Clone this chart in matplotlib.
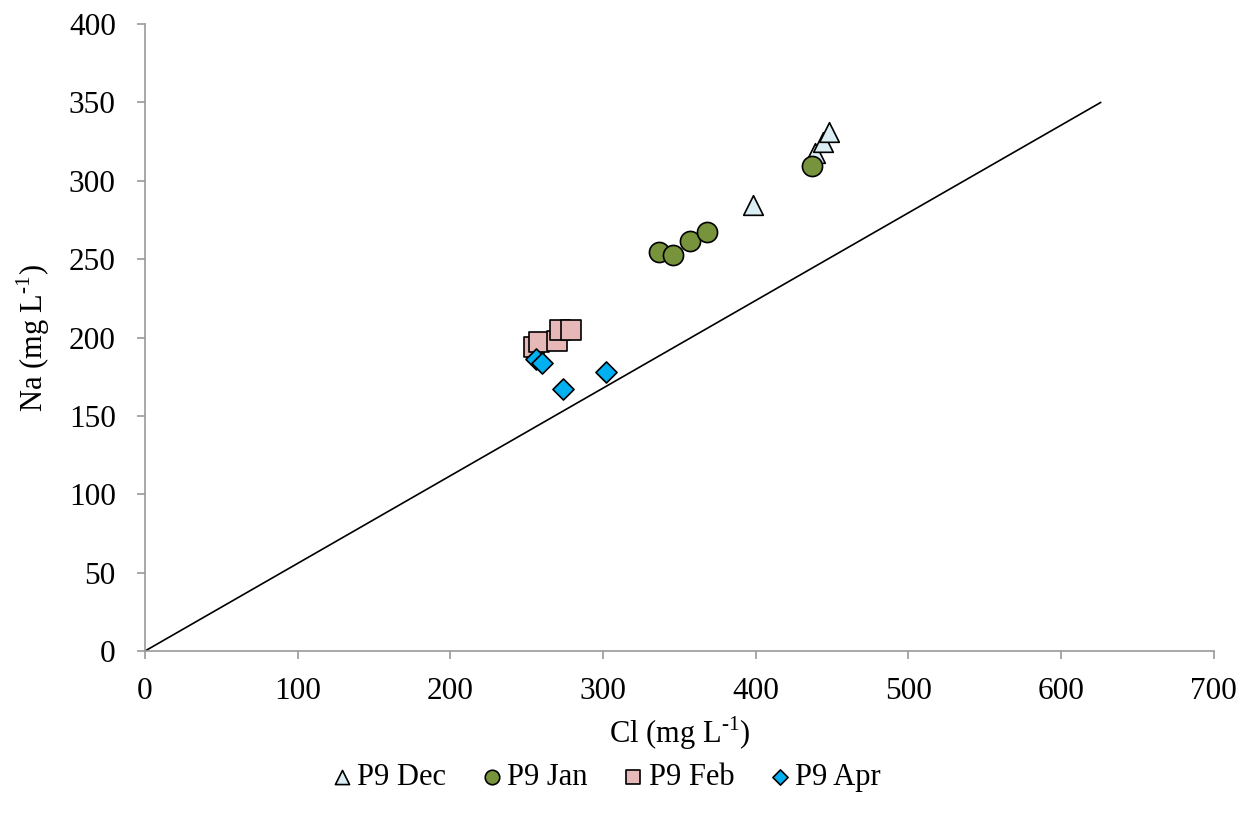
import matplotlib
matplotlib.use('Agg')
import matplotlib.pyplot as plt

plt.rcParams['font.family'] = ['Liberation Serif', 'DejaVu Serif']
plt.rcParams['mathtext.fontset'] = 'custom'
plt.rcParams['mathtext.rm'] = 'Liberation Serif'

# Cl (x) and Na (y) in mg/L
dec_cl = [398, 439, 444, 448]
dec_na = [284.5, 318, 325, 331]
jan_cl = [337, 346, 357, 368, 437]
jan_na = [254.5, 252.5, 261.5, 267.5, 309.5]
feb_cl = [255, 258, 270, 272, 279]
feb_na = [194, 197, 198, 205, 205]
apr_cl = [256, 260, 274, 302]
apr_na = [186.5, 183.5, 167.5, 178]

# reference line
line_cl = [0, 626]
line_na = [0, 350]

fig = plt.figure(figsize=(12.55, 8.32), dpi=100)
ax = fig.add_axes([0.1155, 0.2175, 0.8515, 0.7535])

ax.plot(line_cl, line_na, color='black', lw=1.2, zorder=1)

ax.scatter(dec_cl, dec_na, marker='^', s=200, c='#DAEEF3', edgecolors='black', linewidths=1.2, label='P9 Dec', zorder=3)
ax.scatter(jan_cl, jan_na, marker='o', s=210, c='#77933C', edgecolors='black', linewidths=1.2, label='P9 Jan', zorder=3)
ax.scatter(feb_cl, feb_na, marker='s', s=200, c='#E6B9B8', edgecolors='black', linewidths=1.2, label='P9 Feb', zorder=3)
ax.scatter(apr_cl, apr_na, marker='D', s=115, c='#00B0F0', edgecolors='black', linewidths=1.2, label='P9 Apr', zorder=3)

ax.set_xlim(0, 700)
ax.set_ylim(0, 400)
ax.set_xticks(range(0, 701, 100))
ax.set_yticks(range(0, 401, 50))

for s in ['top', 'right']:
    ax.spines[s].set_visible(False)
for s in ['left', 'bottom']:
    ax.spines[s].set_color('#999999')
    ax.spines[s].set_linewidth(1.2)
ax.tick_params(direction='out', length=6, width=1.2, color='#999999', labelsize=22.5)
ax.tick_params(axis='y', pad=15)
ax.tick_params(axis='x', pad=13)

ax.set_xlabel(r'Cl (mg L$^{\text{-1}}$)', fontsize=22, labelpad=6)
ax.set_ylabel(r'Na (mg L$^{\text{-1}}$)', fontsize=22, labelpad=12)

fig.legend(loc='center', bbox_to_anchor=(0.481, 0.066), ncol=4, frameon=False,
           fontsize=22, markerscale=0.72, handletextpad=0.0, columnspacing=1.0,
           handlelength=1.0)

fig.savefig('out.png', dpi=100)
